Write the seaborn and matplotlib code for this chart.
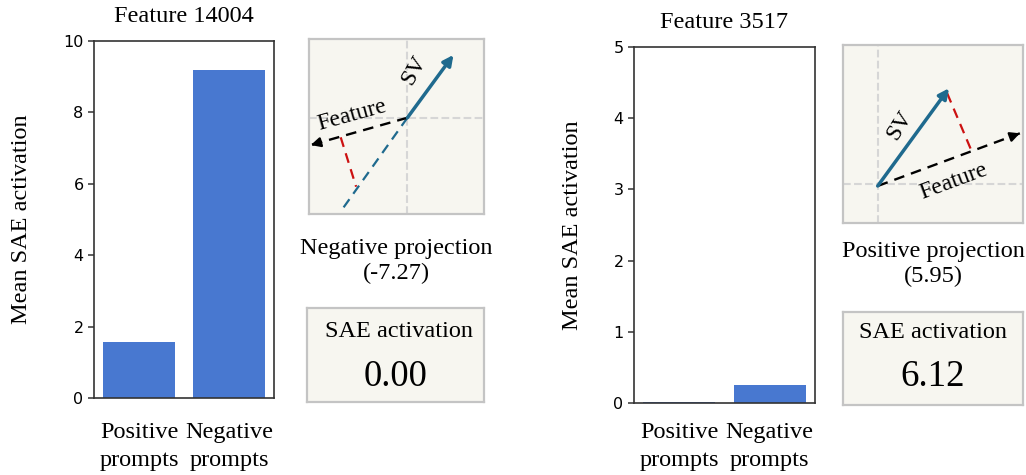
import numpy as np
import pandas as pd
import matplotlib
matplotlib.use("Agg")
import matplotlib.pyplot as plt
import seaborn as sns

# ---------------- data ----------------
categories = ["Positive\nprompts", "Negative\nprompts"]
feature_names = ["Feature 14004", "Feature 3517"]
left_values = [1.56, 9.18]
right_values = [0.02, 0.25]
left_yticks = [0, 2, 4, 6, 8, 10]
right_yticks = [0, 1, 2, 3, 4, 5]
projections = [-7.27, 5.95]
sae_activations = [0.00, 6.12]

# schematic vectors (axes-fraction coordinates of the little diagrams)
left_origin = (0.562, 0.55)
left_sv_tip = (0.825, 0.909)
left_sv_ext = (0.187, 0.023)
left_feat_tip = (0.01, 0.394)
left_perp = [(0.181, 0.438), (0.269, 0.156)]
right_origin = (0.193, 0.208)
right_cross = (0.193, 0.219)
right_sv_tip = (0.589, 0.757)
right_feat_tip = (0.983, 0.504)
right_perp = [(0.579, 0.729), (0.72, 0.392)]

# ---------------- style ----------------
plt.rcParams["font.family"] = ["DejaVu Sans"]
SERIF = "Liberation Serif"
BAR_COLOR = "#4878d0"
SV_COLOR = "#1f6a8e"
BOX_FACE = "#f7f6f0"
BOX_EDGE = "#c4c4c4"
SPINE = "#333333"
FS = 17.5

fig = plt.figure(figsize=(10.26, 4.75), dpi=100)


def bar_panel(rect, values, yticks, title, xpad):
    ax = fig.add_axes(rect)
    df = pd.DataFrame({"cat": categories, "val": values})
    sns.barplot(data=df, x="cat", y="val", color=BAR_COLOR, saturation=1,
                width=0.8, ax=ax)
    ax.set_xlim(-0.5, 1.5)
    ax.set_ylim(yticks[0], yticks[-1])
    ax.set_yticks(yticks)
    ax.set_xticks(range(len(categories)))
    ax.set_xticklabels(categories, fontfamily=SERIF, fontsize=FS, linespacing=1.45)
    ax.set_xlabel("")
    ax.set_ylabel("Mean SAE activation", fontfamily=SERIF, fontsize=FS)
    ax.set_title(title, fontfamily=SERIF, fontsize=FS, pad=14)
    ax.tick_params(axis="x", length=0, pad=xpad)
    ax.tick_params(axis="y", length=4.5, width=1.1, color=SPINE, labelsize=11.5, pad=3)
    for s in ax.spines.values():
        s.set_color(SPINE)
        s.set_linewidth(1.2)
    return ax


def box_axes(rect):
    ax = fig.add_axes(rect)
    ax.set_facecolor(BOX_FACE)
    ax.set_xlim(0, 1)
    ax.set_ylim(0, 1)
    ax.set_xticks([])
    ax.set_yticks([])
    for s in ax.spines.values():
        s.set_color(BOX_EDGE)
        s.set_linewidth(1.6)
    return ax


def dashed_arrow(ax, start, tip, color, lw):
    s = np.array(start); t = np.array(tip)
    ax.plot([s[0], t[0]], [s[1], t[1]], color=color, lw=lw, dashes=(4.5, 3),
            solid_capstyle="butt")
    d = t - s
    pre = t - 0.04 * d / np.linalg.norm(d)
    ax.annotate("", xy=tuple(t), xytext=tuple(pre),
                arrowprops=dict(arrowstyle="-|>", color=color, lw=lw,
                                mutation_scale=14, shrinkA=0, shrinkB=0))


# ---------------- left panel ----------------
ax1 = bar_panel([0.0916, 0.1621, 0.1754, 0.7516], left_values, left_yticks,
                feature_names[0], 17)
ax1.yaxis.set_label_coords(-0.345, 0.5)

d1 = box_axes([0.3012, 0.5495, 0.1706, 0.3684])
d1.axvline(left_origin[0], color="#d6d6d6", ls="--", lw=1.5)
d1.axhline(left_origin[1], color="#d6d6d6", ls="--", lw=1.5)
d1.plot([left_origin[0], left_sv_ext[0]], [left_origin[1], left_sv_ext[1]],
        color=SV_COLOR, lw=1.6, dashes=(4.5, 3))
d1.plot([p[0] for p in left_perp], [p[1] for p in left_perp], color="#cc1111",
        lw=1.6, dashes=(4.5, 3))
dashed_arrow(d1, left_origin, left_feat_tip, "black", 1.7)
d1.annotate("", xy=left_sv_tip, xytext=left_origin,
            arrowprops=dict(arrowstyle="-|>", color=SV_COLOR, lw=2.5,
                            mutation_scale=15, shrinkA=0, shrinkB=0))
d1.text(0.244, 0.566, "Feature", rotation=15.4, ha="center", va="center",
        fontfamily=SERIF, fontsize=17, rotation_mode="anchor")
d1.text(0.6, 0.823, "SV", rotation=60, ha="center", va="center",
        fontfamily=SERIF, fontsize=17, rotation_mode="anchor")

lbl = "Negative" if projections[0] < 0 else "Positive"
fig.text(0.3865, 0.4505, f"{lbl} projection\n({projections[0]:.2f})", ha="center",
         va="center", fontfamily=SERIF, fontsize=FS, linespacing=1.2)

s1 = box_axes([0.2992, 0.1537, 0.1725, 0.1979])
s1.text(0.52, 0.755, "SAE activation", ha="center", va="center",
        fontfamily=SERIF, fontsize=FS)
s1.text(0.5, 0.27, f"{sae_activations[0]:.2f}", ha="center", va="center",
        fontfamily=SERIF, fontsize=26.5)

# ---------------- right panel ----------------
ax2 = bar_panel([0.6179, 0.1516, 0.1764, 0.7495], right_values, right_yticks,
                feature_names[1], 13.5)
ax2.yaxis.set_label_coords(-0.282, 0.5)

d2 = box_axes([0.8216, 0.5305, 0.1754, 0.3747])
d2.axvline(right_cross[0], color="#d6d6d6", ls="--", lw=1.5)
d2.axhline(right_cross[1], color="#d6d6d6", ls="--", lw=1.5)
d2.plot([p[0] for p in right_perp], [p[1] for p in right_perp], color="#cc1111",
        lw=1.6, dashes=(4.5, 3))
dashed_arrow(d2, right_origin, right_feat_tip, "black", 1.7)
d2.annotate("", xy=right_sv_tip, xytext=right_origin,
            arrowprops=dict(arrowstyle="-|>", color=SV_COLOR, lw=2.5,
                            mutation_scale=15, shrinkA=0, shrinkB=0))
d2.text(0.613, 0.232, "Feature", rotation=20.4, ha="center", va="center",
        fontfamily=SERIF, fontsize=17, rotation_mode="anchor")
d2.text(0.317, 0.55, "SV", rotation=58, ha="center", va="center",
        fontfamily=SERIF, fontsize=17, rotation_mode="anchor")

lbl = "Negative" if projections[1] < 0 else "Positive"
fig.text(0.9093, 0.444, f"{lbl} projection\n({projections[1]:.2f})", ha="center",
         va="center", fontfamily=SERIF, fontsize=FS, linespacing=1.2)

s2 = box_axes([0.8216, 0.1474, 0.1754, 0.1958])
s2.text(0.5, 0.774, "SAE activation", ha="center", va="center",
        fontfamily=SERIF, fontsize=FS)
s2.text(0.5, 0.3, f"{sae_activations[1]:.2f}", ha="center", va="center",
        fontfamily=SERIF, fontsize=26.5)

fig.savefig("out.png", dpi=100)
